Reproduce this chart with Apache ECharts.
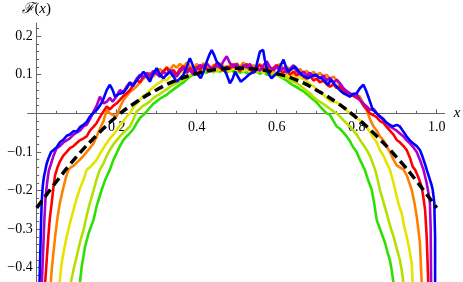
<!DOCTYPE html>
<html>
<head>
<meta charset="utf-8">
<script src="https://cdn.jsdelivr.net/npm/echarts@6/dist/echarts.min.js"></script>
<style>
  html, body { margin: 0; padding: 0; background: #fff; }
  #chart { width: 463px; height: 282px; }
</style>
</head>
<body>
<div id="chart"></div>
<script>
// tick positions
var xMajor = [0.2, 0.4, 0.6, 0.8, 1.0];
var xMinor = [0.05, 0.1, 0.15, 0.25, 0.3, 0.35, 0.45, 0.5, 0.55, 0.65, 0.7, 0.75, 0.85, 0.9, 0.95];
var yMajor = [-0.4, -0.3, -0.2, -0.1, 0.1, 0.2];
var yMinor = [-0.42, -0.38, -0.36, -0.34, -0.32, -0.28, -0.26, -0.24, -0.22, -0.18, -0.16, -0.14, -0.12,
              -0.08, -0.06, -0.04, -0.02, 0.02, 0.04, 0.06, 0.08, 0.12, 0.14, 0.16, 0.18, 0.22];

// curves, [x, F(x)]
var green = [[0.108,-0.44],[0.1125,-0.397],[0.117,-0.37],[0.121,-0.345],[0.13,-0.31],[0.142,-0.276],[0.15,-0.24],[0.1625,-0.198],[0.172,-0.17],[0.183,-0.146],[0.192,-0.12],[0.2,-0.103],[0.208,-0.085],[0.217,-0.069],[0.225,-0.06],[0.233,-0.051],[0.242,-0.04],[0.25,-0.025],[0.258,-0.012],[0.267,-0.004],[0.275,0.005],[0.283,0.015],[0.292,0.025],[0.3,0.031],[0.308,0.038],[0.317,0.043],[0.325,0.048],[0.333,0.055],[0.342,0.062],[0.35,0.068],[0.358,0.074],[0.367,0.08],[0.375,0.088],[0.383,0.095],[0.392,0.1],[0.4,0.108],[0.408,0.102],[0.417,0.11],[0.425,0.105],[0.433,0.112],[0.442,0.106],[0.45,0.115],[0.458,0.108],[0.467,0.112],[0.475,0.105],[0.483,0.114],[0.492,0.108],[0.5,0.112],[0.508,0.105],[0.517,0.11],[0.525,0.104],[0.533,0.112],[0.542,0.106],[0.55,0.11],[0.558,0.102],[0.567,0.108],[0.575,0.1],[0.583,0.104],[0.592,0.098],[0.6,0.1],[0.608,0.095],[0.617,0.09],[0.625,0.085],[0.633,0.078],[0.642,0.072],[0.65,0.068],[0.658,0.062],[0.667,0.057],[0.675,0.05],[0.683,0.043],[0.692,0.035],[0.7,0.028],[0.708,0.018],[0.717,0.008],[0.725,0.0],[0.733,-0.004],[0.742,-0.02],[0.75,-0.034],[0.758,-0.04],[0.767,-0.05],[0.775,-0.06],[0.783,-0.072],[0.79,-0.086],[0.8,-0.1],[0.808,-0.12],[0.815,-0.135],[0.82,-0.146],[0.8275,-0.17],[0.8375,-0.198],[0.844,-0.235],[0.85,-0.276],[0.86,-0.305],[0.871,-0.336],[0.877,-0.36],[0.883,-0.38],[0.888,-0.41],[0.892,-0.44]];

var yellowGreen = [[0.085,-0.44],[0.092,-0.405],[0.1,-0.371],[0.108,-0.335],[0.117,-0.302],[0.125,-0.265],[0.133,-0.232],[0.142,-0.2],[0.15,-0.17],[0.158,-0.146],[0.167,-0.13],[0.175,-0.11],[0.183,-0.095],[0.192,-0.08],[0.2,-0.07],[0.208,-0.06],[0.217,-0.05],[0.225,-0.042],[0.233,-0.034],[0.242,-0.015],[0.25,0.005],[0.258,0.012],[0.267,0.02],[0.275,0.025],[0.283,0.031],[0.292,0.04],[0.3,0.045],[0.308,0.05],[0.317,0.057],[0.325,0.062],[0.333,0.068],[0.342,0.075],[0.35,0.078],[0.358,0.082],[0.367,0.088],[0.375,0.093],[0.383,0.098],[0.392,0.104],[0.4,0.108],[0.408,0.112],[0.417,0.105],[0.425,0.115],[0.433,0.11],[0.442,0.118],[0.45,0.108],[0.458,0.115],[0.467,0.11],[0.475,0.118],[0.483,0.112],[0.492,0.12],[0.5,0.11],[0.508,0.115],[0.517,0.108],[0.525,0.118],[0.533,0.11],[0.542,0.115],[0.55,0.105],[0.558,0.112],[0.567,0.105],[0.575,0.11],[0.583,0.1],[0.592,0.105],[0.6,0.1],[0.608,0.098],[0.617,0.092],[0.625,0.095],[0.633,0.085],[0.642,0.082],[0.65,0.078],[0.658,0.072],[0.667,0.065],[0.675,0.058],[0.683,0.052],[0.692,0.042],[0.7,0.035],[0.708,0.03],[0.717,0.024],[0.725,0.018],[0.733,0.012],[0.742,0.005],[0.75,0.0],[0.758,-0.008],[0.767,-0.018],[0.775,-0.026],[0.783,-0.034],[0.792,-0.045],[0.8,-0.055],[0.808,-0.069],[0.817,-0.082],[0.825,-0.095],[0.833,-0.11],[0.84,-0.129],[0.846,-0.146],[0.852,-0.17],[0.858,-0.198],[0.867,-0.23],[0.875,-0.259],[0.883,-0.29],[0.892,-0.319],[0.9,-0.35],[0.908,-0.38],[0.913,-0.41],[0.917,-0.44]];

var yellow = [[0.057,-0.44],[0.0625,-0.388],[0.069,-0.35],[0.075,-0.319],[0.083,-0.285],[0.092,-0.25],[0.1,-0.22],[0.108,-0.195],[0.117,-0.172],[0.125,-0.146],[0.133,-0.14],[0.142,-0.13],[0.15,-0.12],[0.158,-0.105],[0.167,-0.09],[0.175,-0.077],[0.183,-0.065],[0.192,-0.055],[0.2,-0.043],[0.208,-0.03],[0.217,-0.02],[0.225,-0.008],[0.233,0.0],[0.242,0.015],[0.25,0.026],[0.258,0.035],[0.267,0.045],[0.275,0.05],[0.283,0.06],[0.292,0.068],[0.3,0.075],[0.308,0.08],[0.317,0.088],[0.325,0.085],[0.333,0.095],[0.342,0.1],[0.35,0.095],[0.358,0.105],[0.367,0.11],[0.375,0.104],[0.383,0.112],[0.392,0.118],[0.4,0.11],[0.408,0.118],[0.417,0.112],[0.425,0.12],[0.433,0.115],[0.442,0.108],[0.45,0.118],[0.458,0.112],[0.467,0.12],[0.475,0.113],[0.483,0.108],[0.492,0.118],[0.5,0.112],[0.508,0.12],[0.517,0.11],[0.525,0.115],[0.533,0.108],[0.542,0.118],[0.55,0.11],[0.558,0.115],[0.567,0.105],[0.575,0.112],[0.583,0.105],[0.592,0.11],[0.6,0.1],[0.608,0.105],[0.617,0.098],[0.625,0.102],[0.633,0.095],[0.642,0.1],[0.65,0.09],[0.658,0.095],[0.667,0.088],[0.675,0.085],[0.683,0.075],[0.692,0.07],[0.7,0.062],[0.708,0.055],[0.717,0.048],[0.725,0.04],[0.733,0.032],[0.742,0.03],[0.75,0.028],[0.758,0.024],[0.767,0.015],[0.775,0.008],[0.783,0.0],[0.792,-0.005],[0.8,-0.012],[0.808,-0.018],[0.817,-0.025],[0.825,-0.035],[0.833,-0.048],[0.84,-0.06],[0.85,-0.075],[0.858,-0.095],[0.867,-0.11],[0.875,-0.129],[0.883,-0.146],[0.892,-0.18],[0.9,-0.216],[0.906,-0.24],[0.9125,-0.259],[0.918,-0.29],[0.925,-0.319],[0.932,-0.355],[0.9375,-0.388],[0.94,-0.44]];

var orange = [[0.035,-0.44],[0.0375,-0.405],[0.042,-0.36],[0.046,-0.32],[0.052,-0.27],[0.058,-0.232],[0.065,-0.2],[0.072,-0.17],[0.079,-0.147],[0.085,-0.14],[0.092,-0.136],[0.1,-0.128],[0.108,-0.12],[0.117,-0.11],[0.125,-0.1],[0.133,-0.09],[0.142,-0.078],[0.15,-0.06],[0.158,-0.04],[0.167,-0.02],[0.175,0.009],[0.183,0.0],[0.192,-0.005],[0.2,-0.008],[0.208,0.015],[0.217,0.035],[0.225,0.045],[0.233,0.055],[0.24,0.061],[0.25,0.07],[0.258,0.08],[0.267,0.09],[0.275,0.098],[0.283,0.105],[0.292,0.095],[0.3,0.108],[0.308,0.115],[0.317,0.105],[0.325,0.12],[0.333,0.112],[0.342,0.125],[0.35,0.118],[0.358,0.128],[0.367,0.12],[0.375,0.132],[0.383,0.122],[0.392,0.115],[0.4,0.128],[0.408,0.118],[0.417,0.13],[0.425,0.12],[0.433,0.112],[0.442,0.125],[0.45,0.118],[0.458,0.13],[0.467,0.122],[0.475,0.112],[0.483,0.125],[0.492,0.118],[0.5,0.13],[0.508,0.12],[0.517,0.132],[0.525,0.12],[0.533,0.112],[0.542,0.125],[0.55,0.118],[0.558,0.128],[0.567,0.115],[0.575,0.125],[0.583,0.118],[0.592,0.108],[0.6,0.12],[0.608,0.128],[0.617,0.115],[0.625,0.122],[0.633,0.11],[0.642,0.118],[0.65,0.108],[0.658,0.115],[0.667,0.105],[0.675,0.11],[0.683,0.1],[0.692,0.108],[0.7,0.098],[0.708,0.105],[0.717,0.095],[0.725,0.1],[0.733,0.09],[0.742,0.095],[0.75,0.085],[0.758,0.07],[0.767,0.06],[0.775,0.052],[0.783,0.05],[0.792,0.045],[0.8,0.048],[0.808,0.043],[0.817,0.025],[0.825,0.009],[0.833,-0.015],[0.842,-0.034],[0.85,-0.045],[0.858,-0.06],[0.867,-0.07],[0.875,-0.086],[0.883,-0.1],[0.892,-0.12],[0.9,-0.135],[0.908,-0.14],[0.917,-0.146],[0.925,-0.16],[0.9375,-0.198],[0.944,-0.23],[0.95,-0.267],[0.954,-0.3],[0.958,-0.336],[0.96,-0.38],[0.9625,-0.44]];

var red = [[0.021,-0.44],[0.025,-0.38],[0.029,-0.32],[0.033,-0.27],[0.0375,-0.232],[0.042,-0.19],[0.046,-0.16],[0.052,-0.14],[0.058,-0.125],[0.066,-0.11],[0.075,-0.1],[0.083,-0.09],[0.092,-0.085],[0.1,-0.077],[0.108,-0.07],[0.117,-0.065],[0.125,-0.06],[0.133,-0.045],[0.142,-0.035],[0.15,-0.025],[0.158,-0.01],[0.167,0.005],[0.175,0.018],[0.183,0.01],[0.192,0.02],[0.2,0.026],[0.208,0.035],[0.217,0.045],[0.225,0.052],[0.233,0.06],[0.242,0.075],[0.25,0.087],[0.258,0.08],[0.267,0.095],[0.275,0.102],[0.283,0.09],[0.292,0.105],[0.3,0.112],[0.308,0.1],[0.317,0.11],[0.325,0.118],[0.333,0.105],[0.342,0.112],[0.35,0.1],[0.358,0.115],[0.367,0.122],[0.375,0.11],[0.383,0.118],[0.392,0.105],[0.4,0.12],[0.408,0.112],[0.417,0.125],[0.425,0.115],[0.433,0.108],[0.442,0.12],[0.45,0.13],[0.458,0.118],[0.467,0.11],[0.475,0.122],[0.483,0.115],[0.492,0.128],[0.5,0.12],[0.508,0.11],[0.517,0.12],[0.525,0.128],[0.533,0.115],[0.542,0.105],[0.55,0.118],[0.558,0.125],[0.567,0.112],[0.575,0.12],[0.583,0.108],[0.592,0.118],[0.6,0.125],[0.608,0.112],[0.617,0.105],[0.625,0.115],[0.633,0.1],[0.642,0.108],[0.65,0.098],[0.658,0.105],[0.667,0.095],[0.675,0.09],[0.683,0.098],[0.692,0.085],[0.7,0.09],[0.708,0.08],[0.717,0.085],[0.725,0.075],[0.733,0.069],[0.742,0.075],[0.75,0.065],[0.758,0.07],[0.767,0.06],[0.775,0.055],[0.783,0.052],[0.792,0.045],[0.8,0.04],[0.808,0.035],[0.817,0.02],[0.825,0.01],[0.833,0.0],[0.842,-0.005],[0.85,-0.01],[0.858,-0.02],[0.867,-0.025],[0.875,-0.035],[0.883,-0.045],[0.892,-0.055],[0.9,-0.069],[0.908,-0.075],[0.917,-0.085],[0.925,-0.095],[0.933,-0.115],[0.94,-0.138],[0.946,-0.146],[0.954,-0.165],[0.9625,-0.19],[0.967,-0.22],[0.971,-0.25],[0.975,-0.32],[0.977,-0.38],[0.979,-0.44]];

var purple = [[0.013,-0.44],[0.016,-0.36],[0.019,-0.28],[0.022,-0.22],[0.026,-0.18],[0.03,-0.15],[0.036,-0.13],[0.042,-0.11],[0.05,-0.09],[0.058,-0.085],[0.067,-0.075],[0.075,-0.07],[0.083,-0.065],[0.092,-0.055],[0.1,-0.05],[0.108,-0.045],[0.117,-0.034],[0.125,-0.03],[0.133,-0.015],[0.14,0.0],[0.15,0.02],[0.158,0.043],[0.167,0.026],[0.175,0.03],[0.183,0.04],[0.19,0.03],[0.2,0.045],[0.208,0.06],[0.217,0.055],[0.225,0.07],[0.233,0.08],[0.242,0.075],[0.25,0.09],[0.258,0.1],[0.267,0.092],[0.275,0.105],[0.283,0.098],[0.292,0.11],[0.3,0.102],[0.308,0.095],[0.317,0.108],[0.325,0.1],[0.333,0.112],[0.342,0.104],[0.35,0.095],[0.358,0.108],[0.367,0.118],[0.375,0.105],[0.383,0.112],[0.392,0.1],[0.4,0.115],[0.408,0.125],[0.417,0.118],[0.425,0.13],[0.433,0.12],[0.442,0.112],[0.45,0.125],[0.458,0.118],[0.467,0.135],[0.475,0.148],[0.483,0.13],[0.492,0.12],[0.5,0.128],[0.508,0.115],[0.517,0.125],[0.525,0.118],[0.533,0.128],[0.542,0.112],[0.55,0.12],[0.558,0.11],[0.567,0.125],[0.575,0.135],[0.583,0.12],[0.592,0.112],[0.6,0.122],[0.608,0.11],[0.617,0.118],[0.625,0.105],[0.633,0.115],[0.642,0.125],[0.65,0.11],[0.658,0.1],[0.667,0.108],[0.675,0.098],[0.683,0.105],[0.692,0.095],[0.7,0.1],[0.708,0.09],[0.717,0.098],[0.725,0.085],[0.733,0.092],[0.742,0.08],[0.75,0.087],[0.758,0.078],[0.767,0.065],[0.775,0.058],[0.783,0.052],[0.792,0.045],[0.8,0.05],[0.808,0.035],[0.817,0.025],[0.825,0.018],[0.833,0.009],[0.842,0.012],[0.85,0.0],[0.858,-0.008],[0.867,-0.018],[0.875,-0.025],[0.883,-0.034],[0.892,-0.04],[0.9,-0.045],[0.908,-0.052],[0.917,-0.06],[0.925,-0.07],[0.933,-0.078],[0.94,-0.086],[0.95,-0.1],[0.958,-0.12],[0.963,-0.135],[0.967,-0.146],[0.975,-0.181],[0.98,-0.21],[0.983,-0.232],[0.985,-0.3],[0.986,-0.44]];

var blue = [[0.007,-0.44],[0.009,-0.36],[0.011,-0.28],[0.0125,-0.23],[0.015,-0.19],[0.018,-0.165],[0.021,-0.15],[0.025,-0.13],[0.03,-0.115],[0.036,-0.1],[0.042,-0.095],[0.05,-0.088],[0.058,-0.075],[0.067,-0.068],[0.075,-0.058],[0.083,-0.055],[0.092,-0.046],[0.1,-0.048],[0.108,-0.036],[0.117,-0.03],[0.125,-0.022],[0.132,-0.01],[0.137,-0.004],[0.15,0.009],[0.158,0.02],[0.166,0.035],[0.175,0.06],[0.183,0.074],[0.19,0.06],[0.196,0.043],[0.205,0.05],[0.216,0.053],[0.225,0.065],[0.233,0.079],[0.24,0.07],[0.25,0.085],[0.258,0.095],[0.267,0.108],[0.275,0.095],[0.283,0.082],[0.29,0.1],[0.3,0.117],[0.308,0.1],[0.317,0.091],[0.325,0.1],[0.333,0.108],[0.342,0.095],[0.35,0.082],[0.358,0.09],[0.367,0.1],[0.375,0.12],[0.383,0.143],[0.39,0.125],[0.396,0.108],[0.403,0.1],[0.41,0.091],[0.418,0.11],[0.425,0.134],[0.431,0.15],[0.4375,0.164],[0.444,0.15],[0.45,0.134],[0.458,0.125],[0.467,0.117],[0.475,0.1],[0.483,0.078],[0.49,0.09],[0.496,0.108],[0.503,0.095],[0.51,0.082],[0.52,0.09],[0.53,0.1],[0.538,0.105],[0.546,0.108],[0.552,0.135],[0.558,0.16],[0.566,0.164],[0.57,0.14],[0.575,0.117],[0.581,0.1],[0.587,0.091],[0.596,0.1],[0.604,0.108],[0.61,0.125],[0.617,0.139],[0.623,0.12],[0.629,0.108],[0.637,0.115],[0.646,0.121],[0.654,0.11],[0.6625,0.1],[0.67,0.095],[0.679,0.091],[0.688,0.097],[0.696,0.1],[0.704,0.094],[0.7125,0.091],[0.72,0.083],[0.729,0.074],[0.735,0.088],[0.742,0.078],[0.75,0.069],[0.758,0.06],[0.767,0.052],[0.775,0.048],[0.783,0.043],[0.79,0.05],[0.8,0.052],[0.808,0.065],[0.817,0.074],[0.823,0.06],[0.829,0.043],[0.835,0.025],[0.84,0.009],[0.85,0.0],[0.858,-0.008],[0.867,-0.015],[0.875,-0.025],[0.883,-0.03],[0.89,-0.034],[0.9,-0.03],[0.908,-0.034],[0.917,-0.048],[0.925,-0.06],[0.933,-0.07],[0.94,-0.077],[0.95,-0.085],[0.958,-0.095],[0.963,-0.108],[0.967,-0.12],[0.971,-0.132],[0.975,-0.146],[0.979,-0.15],[0.983,-0.172],[0.987,-0.185],[0.99,-0.198],[0.994,-0.232],[0.995,-0.28],[0.996,-0.32],[0.996,-0.44]];

// dashed reference curve
var dashed = [[0,-0.245],[0.05,-0.176],[0.1,-0.112],[0.15,-0.057],[0.2,-0.008],[0.25,0.03],[0.3,0.061],[0.35,0.086],[0.4,0.103],[0.45,0.114],[0.5,0.117],[0.55,0.114],[0.6,0.103],[0.65,0.086],[0.7,0.06],[0.75,0.028],[0.8,-0.012],[0.85,-0.059],[0.9,-0.114],[0.95,-0.176],[1.0,-0.245]];

var curveNames = ['green', 'yellowGreen', 'yellow', 'orange', 'red', 'purple', 'blue'];
var curveData = [green, yellowGreen, yellow, orange, red, purple, blue];
var curveColors = ['#2ee000', '#b4e000', '#e4e400', '#ff8000', '#ff0000', '#aa00cc', '#0000ff'];

var serif = "'Liberation Serif', 'DejaVu Serif', serif";
var axisColor = '#666';

// plot frame
var W = 463, H = 282;
var gLeft = 27.7, gRight = 18.3, gTop = 23, gBottom = 0;
var xMin = -0.0225, xMax = 1.02, yMin = -0.437, yMax = 0.234;
// axes cross at the origin (Mathematica style): shift them in from the frame edges
var xAxisOffset = -(H - gTop - gBottom) * (0 - yMin) / (yMax - yMin);
var yAxisOffset = -(W - gLeft - gRight) * (0 - xMin) / (xMax - xMin);

var chart = echarts.init(document.getElementById('chart'));

var series = [];
for (var i = 0; i < curveData.length; i++) {
    series.push({
        name: curveNames[i],
        type: 'line',
        data: curveData[i],
        showSymbol: false,
        symbol: 'none',
        lineStyle: { color: curveColors[i], width: 2.6 },
        z: 2 + i
    });
}
series.push({
    name: 'fit',
    type: 'line',
    data: dashed,
    smooth: true,
    showSymbol: false,
    symbol: 'none',
    lineStyle: { color: '#000', width: 3.5, type: [9, 5] },
    z: 20
});

var option = {
    animation: false,
    backgroundColor: '#fff',
    grid: { left: gLeft, right: gRight, top: gTop, bottom: gBottom, containLabel: false, outerBoundsMode: 'none' },
    xAxis: [
        {
            type: 'value', min: xMin, max: xMax, position: 'bottom', offset: xAxisOffset,
            name: 'x', nameLocation: 'end', nameGap: 9,
            nameTextStyle: { fontFamily: serif, fontStyle: 'italic', fontSize: 15, color: '#000' },
            axisLine: { onZero: false, lineStyle: { color: axisColor, width: 1 } },
            axisTick: { inside: true, length: 4, customValues: xMajor, lineStyle: { color: axisColor } },
            axisLabel: {
                customValues: xMajor, margin: 7, fontFamily: serif, fontSize: 14, color: '#000',
                formatter: function (v) { return v.toFixed(1); }
            },
            splitLine: { show: false }
        },
        {
            type: 'value', min: xMin, max: xMax, position: 'bottom', offset: xAxisOffset,
            axisLine: { show: false, onZero: false },
            axisTick: { show: true, inside: true, length: 2.5, customValues: xMinor, lineStyle: { color: axisColor } },
            axisLabel: { show: false },
            splitLine: { show: false }
        }
    ],
    yAxis: [
        {
            type: 'value', min: yMin, max: yMax, position: 'left', offset: yAxisOffset,
            name: '{f|\u2131}{n|(}{i|x}{n|)}', nameLocation: 'end', nameGap: 6,
            nameTextStyle: {
                rich: {
                    f: { fontFamily: serif, fontSize: 15, fontStyle: 'italic', color: '#000' },
                    n: { fontFamily: serif, fontSize: 15, color: '#000' },
                    i: { fontFamily: serif, fontSize: 15, fontStyle: 'italic', color: '#000' }
                }
            },
            axisLine: { onZero: false, lineStyle: { color: axisColor, width: 1 } },
            axisTick: { inside: true, length: 4.5, customValues: yMajor, lineStyle: { color: axisColor } },
            axisLabel: {
                customValues: yMajor, margin: 4, fontFamily: serif, fontSize: 14, color: '#000',
                formatter: function (v) { return (v < 0 ? '\u2212' : '') + Math.abs(v).toFixed(1); }
            },
            splitLine: { show: false }
        },
        {
            type: 'value', min: yMin, max: yMax, position: 'left', offset: yAxisOffset,
            axisLine: { show: false, onZero: false },
            axisTick: { show: true, inside: true, length: 2.5, customValues: yMinor, lineStyle: { color: axisColor } },
            axisLabel: { show: false },
            splitLine: { show: false }
        }
    ],
    series: series
};

chart.setOption(option);
</script>
</body>
</html>
